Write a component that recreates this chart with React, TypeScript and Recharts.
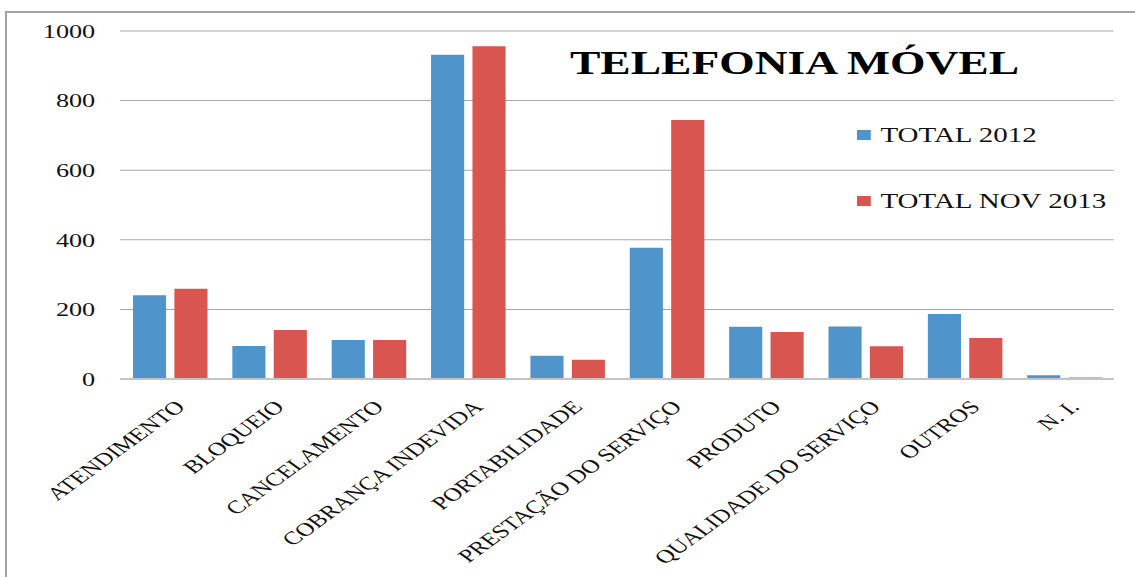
import React from 'react';
import { BarChart, Bar, XAxis, YAxis, CartesianGrid, Legend } from 'recharts';

const categories = [
  'ATENDIMENTO',
  'BLOQUEIO',
  'CANCELAMENTO',
  'COBRANÇA INDEVIDA',
  'PORTABILIDADE',
  'PRESTAÇÃO DO SERVIÇO',
  'PRODUTO',
  'QUALIDADE DO SERVIÇO',
  'OUTROS',
  'N. I.',
];
const total2012 = [241, 95, 112, 932, 67, 377, 150, 151, 187, 11];
const totalNov2013 = [259, 141, 112, 956, 55, 744, 135, 94, 118, 4];
const yTicks = [0, 200, 400, 600, 800, 1000];

const data = categories.map((name, i) => ({
  name,
  t2012: total2012[i],
  t2013: totalNov2013[i],
}));

const FONT = "'Liberation Serif', 'DejaVu Serif', serif";
const BLUE = '#4f94ca';
const RED = '#d95650';
// the reference is stretched horizontally, so the chart is drawn narrower and scaled
const SX = 1.38;
const W = 823;
const H = 577;

const XTick = ({ x, y, payload }: any) => (
  <g transform={`translate(${x + 12},${y + 21})`}>
    <text x={0} y={0} textAnchor="end" transform="rotate(-45)" fontSize={18.5} fontFamily={FONT} fill="#111">
      {payload.value}
    </text>
  </g>
);

const LegendBox = ({ payload }: any) => (
  <div style={{ fontFamily: FONT, fontSize: 21, color: '#111' }}>
    {(payload || []).map((p: any) => (
      <div key={p.value} style={{ display: 'flex', alignItems: 'center', height: 66 }}>
        <span style={{ display: 'inline-block', width: 10, height: 10, background: p.color, marginRight: 7 }} />
        <span>{p.value}</span>
      </div>
    ))}
  </div>
);

export default function App() {
  return (
    <div style={{ position: 'absolute', left: 0, top: 0, width: 1135, height: 577, overflow: 'hidden', background: '#fff' }}>
      <div style={{ position: 'absolute', left: 5, top: 11, width: 1300, height: 700, border: '2px solid #a3a3a3' }} />
      <div style={{ position: 'absolute', left: 0, top: 0, width: W, height: H, transform: `scaleX(${SX})`, transformOrigin: '0 0' }}>
        <div
          style={{
            position: 'absolute',
            left: 413,
            top: 47,
            fontFamily: FONT,
            fontWeight: 'bold',
            fontSize: 33,
            lineHeight: '33px',
            color: '#000',
            whiteSpace: 'nowrap',
            zIndex: 2,
          }}
        >
          TELEFONIA MÓVEL
        </div>
        <BarChart
          width={W}
          height={H}
          data={data}
          margin={{ top: 31, right: 16, left: 0, bottom: 0 }}
          barCategoryGap="13%"
          barGap={6}
        >
          <CartesianGrid vertical={false} stroke="#a8a8a8" />
          <XAxis
            dataKey="name"
            interval={0}
            height={198}
            tickLine={false}
            axisLine={{ stroke: '#c4c4c4', strokeWidth: 2 }}
            tick={<XTick />}
          />
          <YAxis
            domain={[0, 1000]}
            ticks={yTicks}
            width={87}
            axisLine={false}
            tickLine={false}
            tickMargin={12}
            tick={{ fontSize: 19, fontFamily: FONT, fill: '#111' }}
          />
          <Legend
            layout="vertical"
            align="center"
            verticalAlign="middle"
            content={<LegendBox />}
            wrapperStyle={{ left: 621, top: 102, width: 200 }}
          />
          <Bar dataKey="t2012" name="TOTAL 2012" fill={BLUE} isAnimationActive={false} />
          <Bar dataKey="t2013" name="TOTAL NOV 2013" fill={RED} isAnimationActive={false} />
        </BarChart>
      </div>
    </div>
  );
}
